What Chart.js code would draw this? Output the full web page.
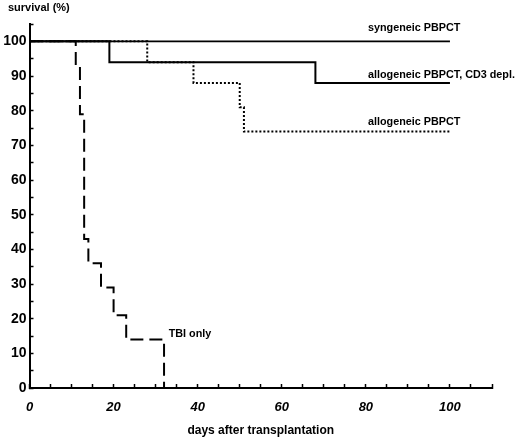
<!DOCTYPE html>
<html>
<head>
<meta charset="utf-8">
<script src="https://cdn.jsdelivr.net/npm/chart.js@4.4.1/dist/chart.umd.min.js"></script>
<style>
  html, body { margin: 0; padding: 0; background: #fff; }
  #wrap { width: 520px; height: 439px; }
</style>
</head>
<body>
<div id="wrap"><canvas id="chart" width="520" height="439"></canvas></div>
<script>
// survival curves (Kaplan-Meier, step at each day)
const daysSyn  = [0, 100];
const survSyn  = [100, 100];

const daysCD3  = [0, 19, 68, 100];
const survCD3  = [100, 94, 88, 88];

const daysAllo = [0, 28, 39, 50, 51, 100];
const survAllo = [100, 94, 88, 81, 74, 74];

const daysTBI  = [0, 11, 12, 13, 14, 17, 20, 23, 32];
const survTBI  = [100, 93, 79, 43, 36, 29, 21, 14, 0];

const xTickLabels = [0, 20, 40, 60, 80, 100];
const yTickLabels = [0, 10, 20, 30, 40, 50, 60, 70, 80, 90, 100];

const curveNames = ['syngeneic PBPCT', 'allogeneic PBPCT, CD3 depl.', 'allogeneic PBPCT', 'TBI only'];

const FONT = "'Liberation Sans', Arial, sans-serif";

// where the curve names sit (data coords)
const namePos = [
  { x: 80.5, y: 102.9 },
  { x: 80.5, y: 89.5 },
  { x: 80.5, y: 76 },
  { x: 33.1, y: 14.7 }
];

const toPts = (xs, ys) => xs.map((x, i) => ({ x, y: ys[i] }));

// curve names + y axis caption
const textPlugin = {
  id: 'curveText',
  afterDraw(chart) {
    const { ctx, scales } = chart;
    ctx.save();
    ctx.fillStyle = '#000';
    ctx.textBaseline = 'alphabetic';
    ctx.textAlign = 'left';
    ctx.font = `bold 10.8px ${FONT}`;
    curveNames.forEach((t, i) => {
      const p = namePos[i];
      ctx.fillText(t, scales.x.getPixelForValue(p.x), scales.y.getPixelForValue(p.y));
    });
    ctx.font = `bold 11px ${FONT}`;
    ctx.textBaseline = 'middle';
    ctx.fillText('survival (%)', 8, 8);
    ctx.restore();
  }
};

const common = { showLine: true, stepped: true, pointRadius: 0, fill: false, borderCapStyle: 'butt' };

new Chart(document.getElementById('chart'), {
  type: 'scatter',
  data: {
    datasets: [
      { ...common, label: curveNames[3], data: toPts(daysTBI, survTBI),
        borderColor: '#000', borderWidth: 2, borderDash: [13, 6] },
      { ...common, label: curveNames[2], data: toPts(daysAllo, survAllo),
        borderColor: '#000', borderWidth: 2, borderDash: [2, 2] },
      { ...common, label: curveNames[1], data: toPts(daysCD3, survCD3),
        borderColor: '#000', borderWidth: 2 },
      { ...common, label: curveNames[0], data: toPts(daysSyn, survSyn),
        borderColor: '#000', borderWidth: 1.8 }
    ]
  },
  options: {
    responsive: false,
    animation: false,
    layout: { padding: { left: 0, right: 28, top: 24, bottom: 0 } },
    plugins: { legend: { display: false }, tooltip: { enabled: false } },
    scales: {
      x: {
        type: 'linear', min: 0, max: 110,
        border: { display: true, color: '#000', width: 2 },
        grid: { drawOnChartArea: false, drawTicks: true, tickLength: -4, tickColor: '#000', tickWidth: 1.5 },
        ticks: {
          stepSize: 5, padding: 16, color: '#000', maxRotation: 0, autoSkip: false,
          font: { family: FONT, size: 13, weight: 'bold', style: 'italic' },
          callback: v => xTickLabels.includes(v) ? String(v) : ''
        },
        title: {
          display: true, text: 'days after transplantation', color: '#000',
          font: { family: FONT, size: 12, weight: 'bold' }, padding: { top: 0, bottom: 1 }
        },
        afterFit: s => { s.height = 51; }
      },
      y: {
        type: 'linear', min: 0, max: 105,
        border: { display: true, color: '#000', width: 2 },
        grid: { drawOnChartArea: false, drawTicks: true, tickLength: -4, tickColor: '#000', tickWidth: 1.5 },
        ticks: {
          stepSize: 5, padding: 7, color: '#000', autoSkip: false,
          font: { family: FONT, size: 14, weight: 'bold' },
          callback: v => yTickLabels.includes(v) ? String(v) : ''
        },
        afterFit: s => { s.width = 29.5; }
      }
    }
  },
  plugins: [textPlugin]
});
</script>
</body>
</html>
